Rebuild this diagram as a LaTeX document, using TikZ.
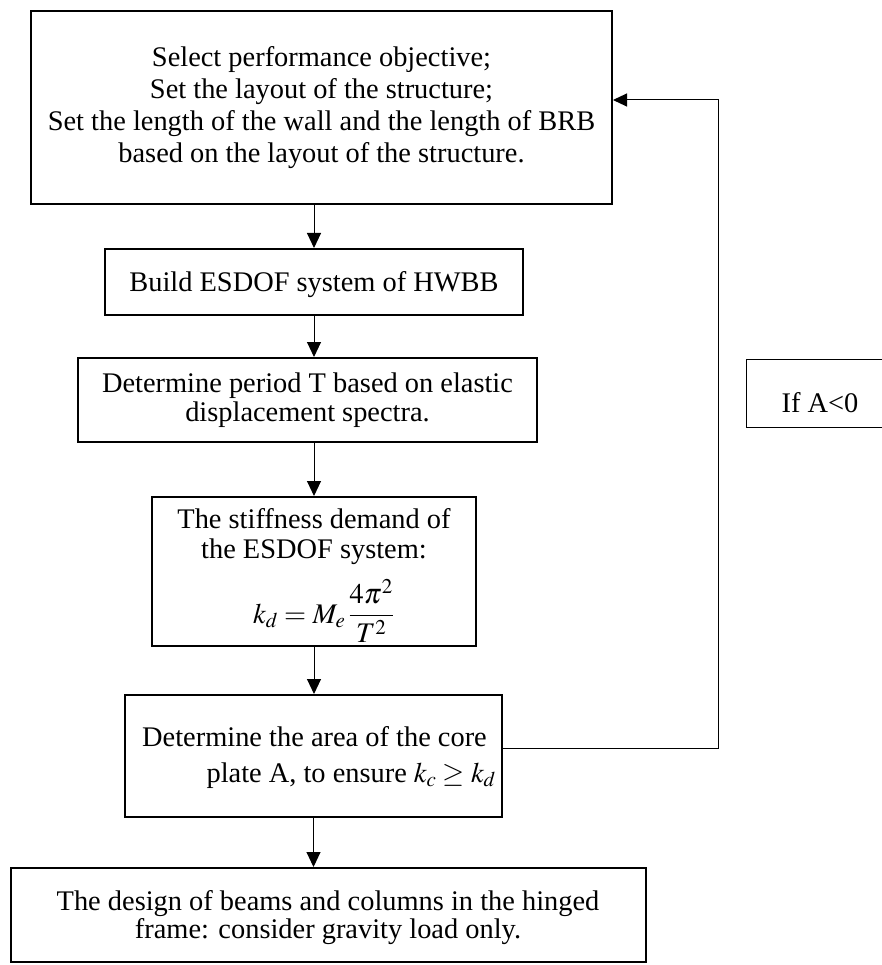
\documentclass[tikz,border=0pt]{standalone}
\usepackage{mathptmx}
\usepackage{fontspec}
\setmainfont{Liberation Serif}
\usetikzlibrary{arrows.meta}
\begin{document}
\begin{tikzpicture}[x=1pt,y=-1pt,
  every node/.style={font=\fontsize{28.4}{32}\selectfont, inner sep=0pt},
  box/.style={draw, line width=2pt, inner sep=0pt},
  thinbox/.style={draw, line width=1pt, inner sep=0pt},
  txt/.style={anchor=base},
  arr/.style={line width=1pt, -{Triangle[width=14pt,length=15pt]}},
  fb/.style={line width=1pt, -{Triangle[width=13pt,length=14pt]}}]
\useasboundingbox (0,0) rectangle (882,965);
% boxes
\node[box, minimum width=581pt, minimum height=193pt] (b1) at (321.5,107.5) {};
\node[box, minimum width=418pt, minimum height=66pt] (b2) at (314,282) {};
\node[box, minimum width=459pt, minimum height=84pt] (b3) at (307.5,400) {};
\node[box, minimum width=324pt, minimum height=149pt] (b4) at (314,571.5) {};
\node[box, minimum width=377pt, minimum height=122pt] (b5) at (313.5,756) {};
\node[box, minimum width=635pt, minimum height=94pt] (b6) at (328.5,915) {};
\node[thinbox, minimum width=148pt, minimum height=68pt] (ifa) at (820,393) {};
% texts
\node[txt] (t1a) at (321.5,67) {Select performance objective;};
\node[txt] (t1b) at (321.5,99) {Set the layout of the structure;};
\node[txt] (t1c) at (321.5,131) {Set the length of the wall and the length of BRB};
\node[txt] (t1d) at (321.5,163) {based on the layout of the structure.};
\node[txt] (t2) at (314,291) {Build ESDOF system of HWBB};
\node[txt] (t3a) at (307.5,392) {Determine period T based on elastic};
\node[txt] (t3b) at (307.5,421) {displacement spectra.};
\node[txt] (t4a) at (314,528) {The stiffness demand of};
\node[txt] (t4b) at (314,558) {the ESDOF system:};
\node[anchor=base west] (t4c) at (253,623) {$\displaystyle k_{d} = M_{e}\,\frac{4\pi^{2}}{T^{2}}$};
\node[txt] (t5a) at (314.5,746) {Determine the area of the core};
\node[anchor=base east] (t5b) at (496,782) {plate A, to ensure $k_{c} \geq k_{d}$};
\node[txt] (t6a) at (328,910) {The design of beams and columns in the hinged};
\node[txt] (t6b) at (328,938) {frame: consider gravity load only.};
\node[txt] (tifa) at (820,412) {If A<0};
% connectors
\draw[arr] (b1.south -| b2.north) -- (b2.north);
\draw[arr] (b2.south) -- (b3.north -| b2.south);
\draw[arr] (b3.south -| b4.north) -- (b4.north);
\draw[arr] (b4.south) -- (b5.north -| b4.south);
\draw[arr] (b5.south) -- (b6.north -| b5.south);
\coordinate (fbA) at (718,748);
\coordinate (fbB) at (718,100);
\draw[fb] (b5.east |- fbA) -- (fbA) -- (fbB) -- (b1.east |- fbB);
\end{tikzpicture}
\end{document}
